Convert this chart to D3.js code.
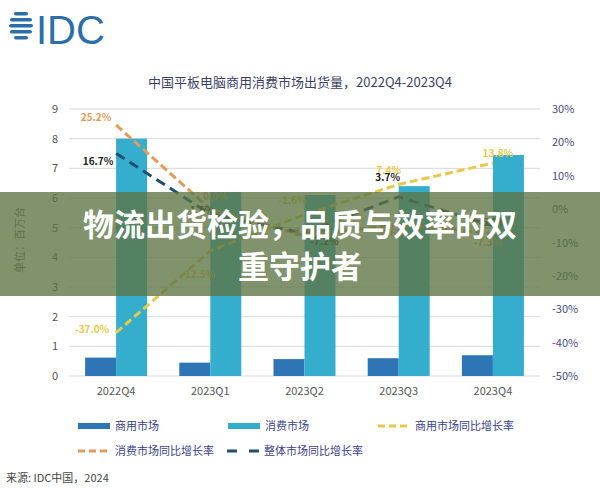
<!DOCTYPE html><html><head><meta charset="utf-8">
<script src="https://cdn.jsdelivr.net/npm/d3@7"></script>
<style>body{margin:0;background:#fff}svg{font-family:"Noto Sans CJK SC","Noto Sans",sans-serif}</style></head><body>
<svg id="c" width="600" height="488"></svg>
<script>
const categories=["2022Q4","2023Q1","2023Q2","2023Q3","2023Q4"];
const commercial=[0.62,0.45,0.57,0.6,0.7];
const consumer=[8.0,6.2,6.1,6.4,7.45];
const commGrowth=[-37.0,-12.5,-1.6,7.4,13.8];
const consGrowth=[25.2,0.0,-8.0,-4.6,-7.3];
const totalGrowth=[16.7,-1.5,-7.2,3.7,-5.0];
const leftTicks=[0,1,2,3,4,5,6,7,8,9];
const rightTicks=[-50,-40,-30,-20,-10,0,10,20,30];
const svg=d3.select("#c");
const x=d3.scaleBand().domain(categories).range([69,540]);
const y=d3.scaleLinear().domain([0,9]).range([376,109]);
const y2=d3.scaleLinear().domain([-50,30]).range([376,109]);
const lg=svg.append("g");
[14,20,26,32,38].forEach((yy,i)=>{const w=[14,22,24,22,14][i];lg.append("rect").attr("x",21-w/2).attr("y",yy-2).attr("width",w).attr("height",3.5).attr("rx",1.7).attr("fill","#2a6fa8");});
lg.append("text").attr("x",36).attr("y",44).attr("font-size",40).attr("font-family","Liberation Sans").attr("fill","#2a6fa8").text("IDC");
svg.append("text").attr("x",300).attr("y",87).attr("text-anchor","middle").attr("font-size",13).attr("fill","#3a3f66").text("中国平板电脑商用消费市场出货量，2022Q4-2023Q4");
svg.append("g").selectAll("line").data(leftTicks).join("line").attr("x1",69).attr("x2",540).attr("y1",d=>y(d)).attr("y2",d=>y(d)).attr("stroke","#d9d9d9");
svg.append("g").selectAll("text").data(leftTicks).join("text").attr("x",55).attr("y",d=>y(d)+4).attr("text-anchor","middle").attr("font-size",11).attr("fill","#555").text(d=>d);
svg.append("g").selectAll("text").data(rightTicks).join("text").attr("x",552).attr("y",d=>y2(d)+4).attr("font-size",11).attr("fill","#4a4a80").text(d=>d+"%");
svg.append("text").attr("transform","translate(24,240) rotate(-90)").attr("text-anchor","middle").attr("font-size",11).attr("fill","#666").text("单位：百万台");
const bw=31;
svg.append("g").selectAll("rect").data(commercial).join("rect").attr("x",(d,i)=>x(categories[i])+x.bandwidth()/2-bw).attr("y",d=>y(d)).attr("width",bw).attr("height",d=>376-y(d)).attr("fill","#2e75b6");
svg.append("g").selectAll("rect").data(consumer).join("rect").attr("x",(d,i)=>x(categories[i])+x.bandwidth()/2).attr("y",d=>y(d)).attr("width",bw).attr("height",d=>376-y(d)).attr("fill","#35aece");
svg.append("g").selectAll("text").data(categories).join("text").attr("x",d=>x(d)+x.bandwidth()/2).attr("y",395).attr("text-anchor","middle").attr("font-size",11).attr("fill","#555").text(d=>d);
const cx=i=>x(categories[i])+x.bandwidth()/2;
function line(data,color,dash){svg.append("path").datum(data).attr("d",d3.line().x((d,i)=>cx(i)).y(d=>y2(d))).attr("fill","none").attr("stroke",color).attr("stroke-width",3).attr("stroke-dasharray",dash);}
line(consGrowth,"#e69a5a","8,4");
line(totalGrowth,"#1f4e6e","10,6");
line(commGrowth,"#e8c84a","8,4");
function labels(data,color,dx,dy){svg.append("g").selectAll("text").data(data).join("text").attr("x",(d,i)=>cx(i)+dx[i]).attr("y",(d,i)=>y2(d)+dy[i]).attr("text-anchor","middle").attr("font-size",10).attr("font-weight","bold").attr("fill",color).text(d=>d.toFixed(1)+"%");}
labels(consGrowth,"#e69a5a",[-20,5,0,-7,-5],[-4,-9,0,13,13]);
labels(commGrowth,"#e8c84a",[-24,-12,-12,-10,5],[0,27,-10,-10,-6]);
labels(totalGrowth,"#222",[-18,-10,20,-11,0],[12,0,12,-16,0]);
const lgd=[["商用市场","#2e75b6","bar",78],["消费市场","#35aece","bar",228],["商用市场同比增长率","#e8c84a","line",378],["消费市场同比增长率","#e69a5a","line",78],["整体市场同比增长率","#1f4e6e","line2",227]];
lgd.forEach((l,i)=>{const yy=i<3?426:451;
 if(l[2]=="bar")svg.append("rect").attr("x",l[3]).attr("y",yy-3).attr("width",32).attr("height",6).attr("fill",l[1]);
 else svg.append("line").attr("x1",l[3]).attr("x2",l[3]+32).attr("y1",yy).attr("y2",yy).attr("stroke",l[1]).attr("stroke-width",3).attr("stroke-dasharray",l[2]=="line"?"7,4":"10,12");
 svg.append("text").attr("x",l[3]+37).attr("y",yy+4).attr("font-size",11).attr("fill","#3a3f88").text(l[0]);});
svg.append("text").attr("x",6).attr("y",482).attr("font-size",11).attr("fill","#444").text("来源: IDC中国，2024");
svg.append("rect").attr("x",0).attr("y",192).attr("width",600).attr("height",104).attr("fill","rgba(92,116,66,0.78)");
svg.append("text").attr("x",300).attr("y",236).attr("text-anchor","middle").attr("font-size",31).attr("font-weight","bold").attr("fill","#fff").text("物流出货检验，品质与效率的双");
svg.append("text").attr("x",300).attr("y",278).attr("text-anchor","middle").attr("font-size",31).attr("font-weight","bold").attr("fill","#fff").text("重守护者");
</script></body></html>
